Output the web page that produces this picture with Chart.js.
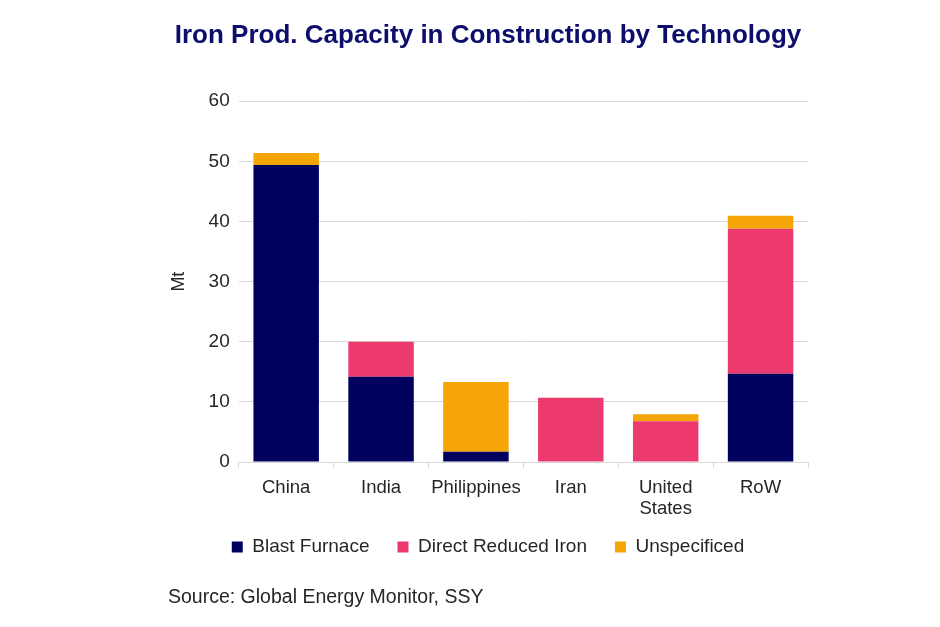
<!DOCTYPE html>
<html>
<head>
<meta charset="utf-8">
<script src="https://cdn.jsdelivr.net/npm/chart.js@4"></script>
<style>
  html, body { margin: 0; padding: 0; background: #fff; }
  #wrap { width: 940px; height: 627px; }
</style>
</head>
<body>
<div id="wrap"><canvas id="chart"></canvas></div>
<script>
// categories and series (Mt)
const countries = ['China', 'India', 'Philippines', 'Iran', ['United', 'States'], 'RoW'];
const blastFurnace = [49.4, 14.2, 1.7, 0, 0, 14.7];
const directReduced = [0, 5.8, 0, 10.7, 6.8, 24.1];
const unspecified = [2.0, 0, 11.6, 0, 1.15, 2.15];
const seriesNames = ['Blast Furnace', 'Direct Reduced Iron', 'Unspecificed'];
const yTicks = [0, 10, 20, 30, 40, 50, 60];

const FONT = "'Liberation Sans Narrow', 'Arial Narrow', 'Liberation Sans', sans-serif";
const TEXT = '#262626';

const ctx = document.getElementById('chart').getContext('2d');

new Chart(ctx, {
  type: 'bar',
  data: {
    labels: countries,
    datasets: [
      { label: seriesNames[0], data: blastFurnace, backgroundColor: '#00005e' },
      { label: seriesNames[1], data: directReduced, backgroundColor: '#ec3a6f' },
      { label: seriesNames[2], data: unspecified, backgroundColor: '#f5a505' },
    ],
  },
  options: {
    responsive: true,
    maintainAspectRatio: false,
    animation: false,
    datasets: {
      bar: { categoryPercentage: 1.0, barPercentage: 0.69 },
    },
    layout: {
      padding: { left: 168, right: 132, top: 16, bottom: 18 },
    },
    scales: {
      x: {
        stacked: true,
        grid: {
          display: true,
          offset: true,
          drawOnChartArea: false,
          drawTicks: true,
          tickLength: 6,
          color: '#d9d9d9',
        },
        border: { display: true, color: '#d9d9d9' },
        ticks: {
          color: TEXT,
          font: { family: FONT, size: 18.5, lineHeight: 1.15 },
          padding: 9,
          maxRotation: 0,
          minRotation: 0,
          autoSkip: false,
        },
      },
      y: {
        stacked: true,
        min: 0,
        max: 60,
        afterBuildTicks: (axis) => { axis.ticks = yTicks.map(v => ({ value: v })); },
        grid: { color: '#d9d9d9', drawTicks: false },
        border: { display: false },
        ticks: { color: TEXT, font: { family: FONT, size: 19 }, padding: 9 },
        title: {
          display: true,
          text: 'Mt',
          color: TEXT,
          font: { family: FONT, size: 18 },
          padding: { top: 0, bottom: 10 },
        },
      },
    },
    plugins: {
      title: {
        display: true,
        text: 'Iron Prod. Capacity in Construction by Technology',
        color: '#0d0d6b',
        font: { family: FONT, size: 26, weight: 'bold' },
        padding: { top: 4, bottom: 50 },
      },
      subtitle: {
        display: true,
        position: 'bottom',
        align: 'start',
        text: 'Source: Global Energy Monitor, SSY',
        color: TEXT,
        font: { family: FONT, size: 19.5 },
        padding: { top: 19, bottom: 0 },
      },
      legend: {
        position: 'bottom',
        labels: {
          color: TEXT,
          font: { family: FONT, size: 19 },
          boxWidth: 11,
          boxHeight: 11,
          padding: 9,
          // wider gap after each item, like the original legend
          generateLabels: (chart) => {
            const items = Chart.defaults.plugins.legend.labels.generateLabels(chart);
            items.forEach((it, i) => { if (i < items.length - 1) it.text += '\u2003'; });
            return items;
          },
        },
      },
      tooltip: { enabled: false },
    },
  },
});
</script>
</body>
</html>
